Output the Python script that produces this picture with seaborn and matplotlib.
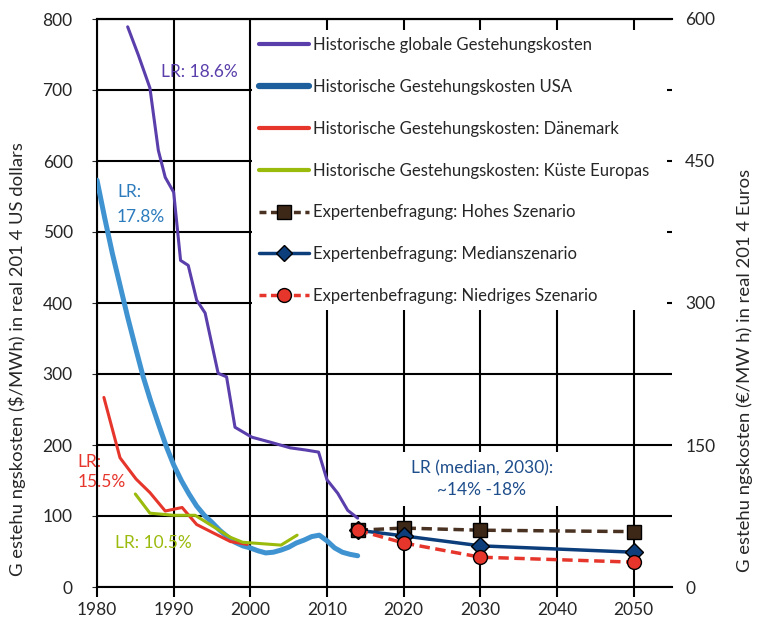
import matplotlib
matplotlib.use("Agg")
import matplotlib.pyplot as plt
from matplotlib.lines import Line2D
from matplotlib.patches import Rectangle
import seaborn as sns

# ---------------- data ----------------
global_years = [1984, 1985.4, 1986.9, 1988, 1988.9, 1990, 1990.9, 1991.9, 1993, 1994.1,
                1995.8, 1996.9, 1998, 1999.1, 2000.2, 2002.6, 2005.2, 2007.2, 2008.9,
                2010, 2011.4, 2012.7, 2014]
global_cost = [789, 749, 703, 615, 577, 556, 460, 453, 404, 386,
               301, 296, 225, 218, 211, 204, 196, 193, 190,
               151, 132, 108, 97]

usa_years = list(range(1980, 2015))
usa_cost = [573, 520, 470, 425, 380, 338, 297, 262, 230, 199, 172, 150, 131, 114, 101,
            91, 80, 71, 63, 58, 55, 51, 48, 49, 52, 56, 62, 66, 71, 73, 65, 55, 49, 46, 44]

dk_years = [1980.9, 1983, 1985.1, 1986.9, 1988.9, 1991.1, 1993, 1997.4, 1999.6]
dk_cost = [267, 182, 152, 133, 107, 112, 88, 64, 60]

eu_years = [1985, 1986.9, 1990, 1992.8, 1997.4, 1999, 2004, 2006.1]
eu_cost = [131, 104, 101, 101, 70, 63, 59, 73]

exp_years = [2014, 2020, 2030, 2050]
exp_high = [80, 83, 80, 78]
exp_median = [80, 72, 58, 49]
exp_low = [80, 62, 42, 35]

x_ticks = [1980, 1990, 2000, 2010, 2020, 2030, 2040, 2050]
y_ticks = [0, 100, 200, 300, 400, 500, 600, 700, 800]
y2_ticks = [0, 150, 300, 450, 600]

labels = ["Historische globale Gestehungskosten",
          "Historische Gestehungskosten USA",
          "Historische Gestehungskosten: Dänemark",
          "Historische Gestehungskosten: Küste Europas",
          "Expertenbefragung: Hohes Szenario",
          "Expertenbefragung: Medianszenario",
          "Expertenbefragung: Niedriges Szenario"]

# ---------------- style ----------------
sns.set_style("white")
plt.rcParams["font.family"] = ["Lato", "DejaVu Sans"]

c_global = "#5a3eab"
c_usa = "#3f93d1"
c_usa_leg = "#1c5f9c"
c_dk = "#e6352b"
c_eu = "#9bbb0c"
c_high = "#4a3222"
c_med = "#0c3e7c"
c_low = "#e6352b"

fig = plt.figure(figsize=(7.62, 6.2), dpi=100)
ax = fig.add_axes([97 / 762, 1 - 587 / 620, (672 - 97) / 762, (587 - 19) / 620])

ax.set_xlim(1980, 2055)
ax.set_ylim(0, 800)
ax.set_xticks(x_ticks)
ax.set_yticks(y_ticks)
ax.grid(True, color="black", lw=1.5)
ax.set_axisbelow(True)
ax.spines["right"].set_visible(False)
for s in ["left", "bottom", "top"]:
    ax.spines[s].set_visible(True)
    ax.spines[s].set_color("black")
    ax.spines[s].set_linewidth(1.5)
    ax.spines[s].set_zorder(3)
ax.tick_params(axis="x", bottom=True, length=7, width=1.5, color="black",
               labelsize=12.5, pad=4)
ax.tick_params(axis="y", left=False, labelsize=12.5, pad=14)

# legend background (covers grid)
ax.add_patch(Rectangle((0.27, 0.488), 0.721, 0.492, transform=ax.transAxes,
                       facecolor="white", edgecolor="none", zorder=2))
ax.axhline(800, color="black", lw=1.5, zorder=3, clip_on=False)

# historic lines
sns.lineplot(x=global_years, y=global_cost, ax=ax, color=c_global, lw=2.2, zorder=4)
sns.lineplot(x=usa_years, y=usa_cost, ax=ax, color=c_usa, lw=3.6, zorder=4)
sns.lineplot(x=dk_years, y=dk_cost, ax=ax, color=c_dk, lw=2.2, zorder=4)
sns.lineplot(x=eu_years, y=eu_cost, ax=ax, color=c_eu, lw=2.2, zorder=4)

# expert scenarios
ax.plot(exp_years, exp_high, color=c_high, lw=2.5, ls=(0, (3, 1.6)), marker="s",
        ms=10, mfc="#3d2717", mec="black", mew=1, zorder=5)
ax.plot(exp_years, exp_median, color=c_med, lw=2.5, marker="D", ms=9,
        mfc=c_med, mec="black", mew=1, zorder=6)
ax.plot(exp_years, exp_low, color=c_low, lw=2.5, ls=(0, (3, 1.6)), marker="o",
        ms=10, mfc=c_low, mec="black", mew=1, zorder=7)

# annotations
fs = 12.5
ax.text(1988.3, 725, "LR: 18.6%", color=c_global, fontsize=fs, va="center")
ax.text(1982.6, 539, "LR:\n17.8%", color="#2c7bbd", fontsize=fs, va="center",
        linespacing=1.65)
ax.text(1977.5, 162, "LR:\n15.5%", color=c_dk, fontsize=fs, va="center",
        linespacing=1.35, clip_on=False)
ax.text(1982.4, 62, "LR: 10.5%", color=c_eu, fontsize=fs, va="center")
ax.text(2030.2, 152, "LR (median, 2030):\n~14% -18%", color="#1f4e8c", fontsize=fs,
        ha="center", va="center", linespacing=1.45, zorder=3,
        bbox=dict(facecolor="white", edgecolor="none", pad=6))

ax.set_ylabel("")
ax.set_xlabel("")
fig.text(17 / 762, 1 - 359 / 620, "G estehu ngskosten ($/MWh) in real 201 4 US dollars",
         rotation=90, ha="center", va="center", fontsize=13.3)

# legend
handles = [
    Line2D([], [], color=c_global, lw=3),
    Line2D([], [], color=c_usa_leg, lw=4.5),
    Line2D([], [], color=c_dk, lw=3),
    Line2D([], [], color=c_eu, lw=3),
    Line2D([], [], color=c_high, lw=2.5, ls=(0, (2, 1.3)), marker="s", ms=10,
           mfc="#3d2717", mec="black", mew=1),
    Line2D([], [], color=c_med, lw=2.5, marker="D", ms=8, mfc=c_med, mec="black", mew=1),
    Line2D([], [], color=c_low, lw=2.5, ls=(0, (2, 1.3)), marker="o", ms=10,
           mfc=c_low, mec="black", mew=1),
]
leg = ax.legend(handles, labels, loc="upper left", bbox_to_anchor=(0.273, 0.977),
                frameon=False, fontsize=12, handlelength=3.0, handletextpad=0.25,
                labelspacing=1.55, borderaxespad=0, borderpad=0.3)
leg.set_zorder(8)

# secondary axis (Euros)
ax2 = ax.twinx()
ax2.set_ylim(0, 600)
ax2.set_yticks(y2_ticks)
for s in ax2.spines.values():
    s.set_visible(False)
ax2.tick_params(axis="y", right=False, labelsize=12.5, pad=6)
ax2.set_ylabel("")
fig.text(745 / 762, 1 - 370 / 620, "G estehu ngskosten (€/MW h) in real 201 4 Euros",
         rotation=90, ha="center", va="center", fontsize=13.3)

fig.savefig("out.png", dpi=100, facecolor="white")
